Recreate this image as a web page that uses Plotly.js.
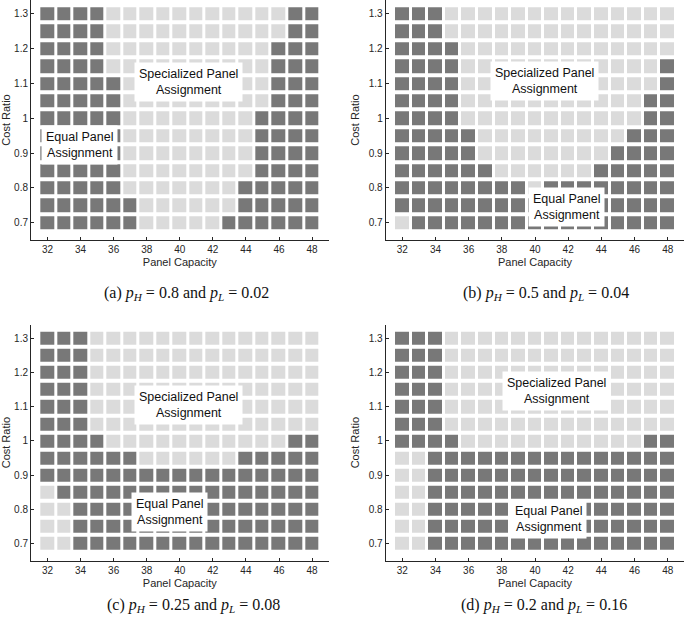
<!DOCTYPE html>
<html>
<head>
<meta charset="utf-8">
<script src="https://cdn.plot.ly/plotly-3.0.1.min.js"></script>
<style>html,body{margin:0;padding:0;background:#fff;}#chart{width:685px;height:622px;}</style>
</head>
<body>
<div id="chart"></div>
<script>
// Panel capacity (columns) and cost ratio (rows, listed top to bottom)
const capacity = [32,33,34,35,36,37,38,39,40,41,42,43,44,45,46,47,48];
const costRatio = [1.3,1.25,1.2,1.15,1.1,1.05,1.0,0.95,0.9,0.85,0.8,0.75,0.7];
const xTickVals = [32,34,36,38,40,42,44,46,48];
const xTickText = ['32','34','36','38','40','42','44','46','48'];
const yTickVals = [0.7,0.8,0.9,1.0,1.1,1.2,1.3];
const yTickText = ['0.7','0.8','0.9','1','1.1','1.2','1.3'];

// 1 = Equal Panel Assignment (dark), 0 = Specialized Panel Assignment (light)
// rows in the order of costRatio (1.3 at top down to 0.7)
const gridA = [
  [1,1,1,1,0,0,0,0,0,0,0,0,0,0,0,1,1],
  [1,1,1,1,0,0,0,0,0,0,0,0,0,0,0,1,1],
  [1,1,1,1,0,0,0,0,0,0,0,0,0,0,1,1,1],
  [1,1,1,1,0,0,0,0,0,0,0,0,0,0,1,1,1],
  [1,1,1,1,1,0,0,0,0,0,0,0,0,0,1,1,1],
  [1,1,1,1,1,0,0,0,0,0,0,0,0,0,1,1,1],
  [1,1,1,1,1,0,0,0,0,0,0,0,0,1,1,1,1],
  [1,1,1,1,1,0,0,0,0,0,0,0,0,1,1,1,1],
  [1,1,1,1,1,0,0,0,0,0,0,0,0,1,1,1,1],
  [1,1,1,1,1,0,0,0,0,0,0,0,0,1,1,1,1],
  [1,1,1,1,1,0,0,0,0,0,0,0,1,1,1,1,1],
  [1,1,1,1,1,1,0,0,0,0,0,0,1,1,1,1,1],
  [1,1,1,1,1,1,0,0,0,0,0,1,1,1,1,1,1]
];
const gridB = [
  [1,1,1,0,0,0,0,0,0,0,0,0,0,0,0,0,0],
  [1,1,1,0,0,0,0,0,0,0,0,0,0,0,0,0,0],
  [1,1,1,1,0,0,0,0,0,0,0,0,0,0,0,0,0],
  [1,1,1,1,0,0,0,0,0,0,0,0,0,0,0,0,1],
  [1,1,1,1,0,0,0,0,0,0,0,0,0,0,0,0,1],
  [1,1,1,1,0,0,0,0,0,0,0,0,0,0,0,1,1],
  [1,1,1,1,0,0,0,0,0,0,0,0,0,0,0,1,1],
  [1,1,1,1,1,0,0,0,0,0,0,0,0,0,1,1,1],
  [1,1,1,1,1,0,0,0,0,0,0,0,0,1,1,1,1],
  [1,1,1,1,1,1,0,0,0,0,0,0,1,1,1,1,1],
  [1,1,1,1,1,1,1,1,0,1,1,1,1,1,1,1,1],
  [1,1,1,1,1,1,1,1,1,1,1,1,1,1,1,1,1],
  [0,1,1,1,1,1,1,1,1,1,1,1,1,1,1,1,1]
];
const gridC = [
  [1,1,1,0,0,0,0,0,0,0,0,0,0,0,0,0,0],
  [1,1,1,0,0,0,0,0,0,0,0,0,0,0,0,0,0],
  [1,1,1,0,0,0,0,0,0,0,0,0,0,0,0,0,0],
  [1,1,1,0,0,0,0,0,0,0,0,0,0,0,0,0,0],
  [1,1,1,0,0,0,0,0,0,0,0,0,0,0,0,0,0],
  [1,1,1,0,0,0,0,0,0,0,0,0,0,0,0,0,0],
  [1,1,1,1,0,0,0,0,0,0,0,0,0,0,0,1,1],
  [1,1,1,1,1,1,0,0,0,0,0,0,1,1,1,1,1],
  [1,1,1,1,1,1,1,1,1,1,1,1,1,1,1,1,1],
  [0,1,1,1,1,1,1,1,1,1,1,1,1,1,1,1,1],
  [0,0,1,1,1,1,1,1,1,1,1,1,1,1,1,1,1],
  [0,0,1,1,1,1,1,1,1,1,1,1,1,1,1,1,1],
  [0,0,1,1,1,1,1,1,1,1,1,1,1,1,1,1,1]
];
const gridD = [
  [1,1,1,0,0,0,0,0,0,0,0,0,0,0,0,0,0],
  [1,1,1,0,0,0,0,0,0,0,0,0,0,0,0,0,0],
  [1,1,1,0,0,0,0,0,0,0,0,0,0,0,0,0,0],
  [1,1,1,0,0,0,0,0,0,0,0,0,0,0,0,0,0],
  [1,1,1,0,0,0,0,0,0,0,0,0,0,0,0,0,0],
  [1,1,1,0,0,0,0,0,0,0,0,0,0,0,0,0,0],
  [1,1,1,1,0,0,0,0,0,0,0,0,0,0,0,1,1],
  [0,0,1,1,1,1,1,1,1,1,1,1,1,1,1,1,1],
  [0,0,1,1,1,1,1,1,1,1,1,1,1,1,1,1,1],
  [0,0,1,1,1,1,1,1,1,1,1,1,1,1,1,1,1],
  [0,0,1,1,1,1,1,1,1,1,1,1,1,1,1,1,1],
  [0,0,1,1,1,1,1,1,1,1,1,1,1,1,1,1,1],
  [0,0,1,1,1,1,1,1,1,1,1,1,1,1,1,1,1]
];

const captions = [
  '(a) <i>p<sub>H</sub></i> = 0.8 and <i>p<sub>L</sub></i> = 0.02',
  '(b) <i>p<sub>H</sub></i> = 0.5 and <i>p<sub>L</sub></i> = 0.04',
  '(c) <i>p<sub>H</sub></i> = 0.25 and <i>p<sub>L</sub></i> = 0.08',
  '(d) <i>p<sub>H</sub></i> = 0.2 and <i>p<sub>L</sub></i> = 0.16'
];
// region label positions (data coords) per panel
const specLabelX = [40.55, 40.6, 40.55, 41.3];
const specLabelY = [1.104, 1.108, 1.105, 1.146];
const equalLabelX = [33.94, 41.92, 39.4, 40.8];
const equalLabelY = [0.922, 0.744, 0.793, 0.773];

const DARK = '#787878', LIGHT = '#dbdbdb', INK = '#262626';
const SANS = "'Liberation Sans', Arial, Helvetica, sans-serif";
const SERIF = "'Liberation Serif', 'Times New Roman', serif";
const W = 685, H = 622;
const grids = [gridA, gridB, gridC, gridD];
const yAsc = costRatio.slice().reverse();

const xDomLeft = [31/W, 328.6/W], xDomRight = [385.7/W, 684.3/W];
const yDomTop = [1 - 240/H, 1], yDomBot = [1 - 560.7/H, 1 - 324.6/H];
const xDoms = [xDomLeft, xDomRight, xDomLeft, xDomRight];
const yDoms = [yDomTop, yDomTop, yDomBot, yDomBot];

const traces = [];
const layout = {
  width: W, height: H,
  margin: {l:0, r:0, t:0, b:0},
  paper_bgcolor: '#fff', plot_bgcolor: '#fff',
  showlegend: false,
  font: {family: SANS, color: INK},
  annotations: []
};

grids.forEach((g, i) => {
  const n = i === 0 ? '' : String(i + 1);
  traces.push({
    type: 'heatmap',
    x: capacity, y: yAsc, z: g.slice().reverse(),
    xaxis: 'x' + n, yaxis: 'y' + n,
    zmin: 0, zmax: 1,
    colorscale: [[0, LIGHT], [0.5, LIGHT], [0.5, DARK], [1, DARK]],
    showscale: false, xgap: 3, ygap: 4, hoverinfo: 'skip'
  });
  layout['xaxis' + n] = {
    domain: xDoms[i], range: [31, 49], anchor: 'y' + n,
    tickvals: xTickVals, ticktext: xTickText,
    ticks: 'inside', ticklen: 3, tickcolor: INK, tickwidth: 1,
    showline: true, linecolor: INK, linewidth: 1,
    showgrid: false, zeroline: false, fixedrange: true,
    tickfont: {family: SANS, size: 10, color: INK},
    title: {text: 'Panel Capacity', font: {family: SANS, size: 11, color: INK}, standoff: 4}
  };
  layout['yaxis' + n] = {
    domain: yDoms[i], range: [0.65, 1.34], anchor: 'x' + n,
    tickvals: yTickVals, ticktext: yTickText,
    ticks: 'inside', ticklen: 3, tickcolor: INK, tickwidth: 1,
    showline: true, linecolor: INK, linewidth: 1,
    showgrid: false, zeroline: false, fixedrange: true,
    tickfont: {family: SANS, size: 10, color: INK},
    title: {text: 'Cost Ratio', font: {family: SANS, size: 11, color: INK}, standoff: 6}
  };
  layout.annotations.push({
    xref: 'x' + n, yref: 'y' + n, x: specLabelX[i], y: specLabelY[i],
    text: 'Specialized Panel<br>Assignment', showarrow: false,
    bgcolor: '#fff', borderpad: 4, font: {family: SANS, size: 12.5, color: '#111'}
  });
  layout.annotations.push({
    xref: 'x' + n, yref: 'y' + n, x: equalLabelX[i], y: equalLabelY[i],
    text: 'Equal Panel<br>Assignment', showarrow: false,
    bgcolor: '#fff', borderpad: 4, font: {family: SANS, size: 12.5, color: '#111'}
  });
});

const capX = [186/W, 546/W, 193/W, 544/W];
const capY = [1 - 293/H, 1 - 293/H, 1 - 605/H, 1 - 605/H];
captions.forEach((c, i) => {
  layout.annotations.push({
    xref: 'paper', yref: 'paper', x: capX[i], y: capY[i],
    xanchor: 'center', yanchor: 'middle',
    text: c, showarrow: false,
    font: {family: SERIF, size: 16, color: '#111'}
  });
});

Plotly.newPlot('chart', traces, layout, {displayModeBar: false, staticPlot: true});
</script>
</body>
</html>
